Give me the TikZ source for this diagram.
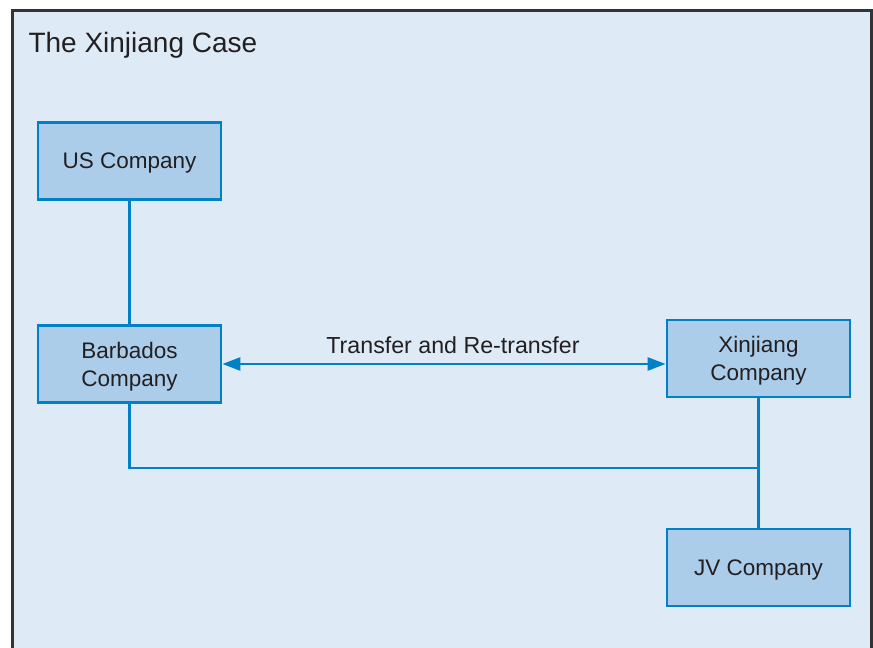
\documentclass[tikz,border=0pt]{standalone}
\usepackage{fontspec}
\setmainfont{Liberation Sans}
\usepackage{tikz}
\usetikzlibrary{arrows.meta, positioning}
\definecolor{CaseBack}  {RGB}{222, 235, 247}
\definecolor{CaseFill}  {RGB}{171, 205, 234}
\definecolor{CaseBlue}  {RGB}{  0, 128, 199}
\definecolor{CaseText}  {RGB}{ 35,  31,  32}
\definecolor{CaseFrame} {RGB}{ 51,  51,  51}

\tikzset{
  company/.style={draw=CaseBlue, line width=2.8pt, fill=CaseFill,
                  minimum width=183pt, minimum height=77pt, align=center,
                  text depth=0pt, text=CaseText,
                  font=\fontsize{22.5}{28}\selectfont},
  link/.style={draw=CaseBlue, line width=2.6pt},
  both/.style={link, {Triangle[length=18pt, width=13pt]}-{Triangle[length=18pt, width=13pt]}}
}

\begin{document}
\begin{tikzpicture}[x=1pt, y=-1pt]
  \useasboundingbox (0,0) rectangle (873,648);
  % background and frame
  \fill[CaseBack] (12,10) rectangle (871,648);
  \draw[CaseFrame, line width=3pt] (12,648) -- (12,10) -- (871,10) -- (871,648);
  \node[anchor=base west, text=CaseText, font=\fontsize{28}{34}\selectfont]
    (title) at (25,52) {The Xinjiang Case};

  % companies
  \node[company] (us)       at (129.5,161)   {US Company};
  \node[company] (barbados) at (129.5,364)   {Barbados\\Company};
  \node[company] (xinjiang) at (758.5,358.5) {Xinjiang\\Company};
  \node[company] (jv)       at (758.5,567.5) {JV Company};

  % ownership
  \coordinate (join) at (xinjiang.south |- 0,468);
  \draw[link] (us) -- (barbados);
  \draw[link] (xinjiang) -- (jv);
  \draw[link] (barbados.south) |- (join);

  % transfer
  \draw[both] (barbados.east |- 0,364) -- node[above=6pt, xshift=9pt, text=CaseText,
    font=\fontsize{23.2}{28}\selectfont] (transfer) {Transfer and Re-transfer}
    (xinjiang.west |- 0,364);
\end{tikzpicture}
\end{document}
